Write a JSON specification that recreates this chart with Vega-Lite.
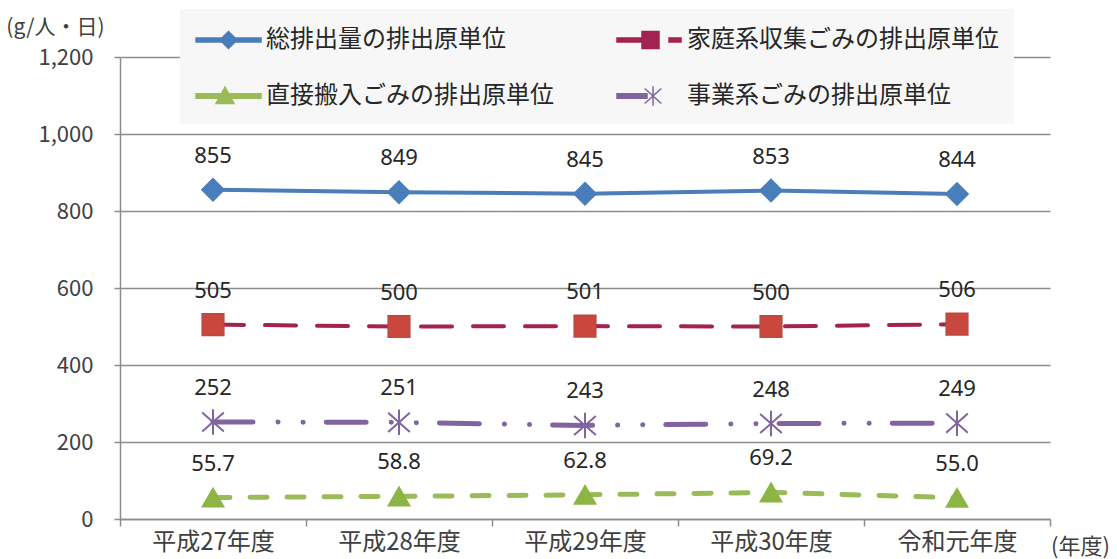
{
  "$schema": "https://vega.github.io/schema/vega-lite/v6.json",
  "autosize": {"type": "none"},
  "padding": {"left": 120, "top": 57, "right": 67, "bottom": 40},
  "width": 930,
  "height": 462,
  "background": "#ffffff",
  "config": {
    "view": {"stroke": null},
    "font": "Noto Sans CJK JP"
  },
  "data": {
    "values": [
      {"year": "平成27年度", "series": "総排出量の排出原単位", "value": 855},
      {"year": "平成28年度", "series": "総排出量の排出原単位", "value": 849},
      {"year": "平成29年度", "series": "総排出量の排出原単位", "value": 845},
      {"year": "平成30年度", "series": "総排出量の排出原単位", "value": 853},
      {"year": "令和元年度", "series": "総排出量の排出原単位", "value": 844},
      {"year": "平成27年度", "series": "家庭系収集ごみの排出原単位", "value": 505},
      {"year": "平成28年度", "series": "家庭系収集ごみの排出原単位", "value": 500},
      {"year": "平成29年度", "series": "家庭系収集ごみの排出原単位", "value": 501},
      {"year": "平成30年度", "series": "家庭系収集ごみの排出原単位", "value": 500},
      {"year": "令和元年度", "series": "家庭系収集ごみの排出原単位", "value": 506},
      {"year": "平成27年度", "series": "直接搬入ごみの排出原単位", "value": 55.7},
      {"year": "平成28年度", "series": "直接搬入ごみの排出原単位", "value": 58.8},
      {"year": "平成29年度", "series": "直接搬入ごみの排出原単位", "value": 62.8},
      {"year": "平成30年度", "series": "直接搬入ごみの排出原単位", "value": 69.2},
      {"year": "令和元年度", "series": "直接搬入ごみの排出原単位", "value": 55.0},
      {"year": "平成27年度", "series": "事業系ごみの排出原単位", "value": 252},
      {"year": "平成28年度", "series": "事業系ごみの排出原単位", "value": 251},
      {"year": "平成29年度", "series": "事業系ごみの排出原単位", "value": 243},
      {"year": "平成30年度", "series": "事業系ごみの排出原単位", "value": 248},
      {"year": "令和元年度", "series": "事業系ごみの排出原単位", "value": 249}
    ]
  },
  "encoding": {
    "x": {
      "field": "year",
      "type": "nominal",
      "scale": {
        "domain": ["平成27年度", "平成28年度", "平成29年度", "平成30年度", "令和元年度"],
        "paddingInner": 0,
        "paddingOuter": 0
      },
      "axis": {
        "title": "(年度)",
        "titleX": 960,
        "titleY": 27,
        "titleAlign": "center",
        "titleBaseline": "middle",
        "titleFontSize": 22,
        "titleFontWeight": "normal",
        "titleColor": "#404040",
        "titleFont": "Noto Sans CJK JP",
        "labelAngle": 0,
        "labelFont": "Noto Sans CJK JP",
        "labelFontSize": 24,
        "labelColor": "#404040",
        "labelPadding": 4,
        "tickBand": "extent",
        "ticks": true,
        "tickSize": 7,
        "tickColor": "#8c8c8c",
        "tickWidth": 1.5,
        "domainColor": "#8c8c8c",
        "domainWidth": 1.5,
        "grid": false
      }
    },
    "y": {
      "field": "value",
      "type": "quantitative",
      "scale": {"domain": [0, 1200]},
      "axis": {
        "values": [0, 200, 400, 600, 800, 1000, 1200],
        "format": ",.0f",
        "title": "(g/人・日)",
        "titleAngle": 0,
        "titleX": -65,
        "titleY": -30,
        "titleAlign": "center",
        "titleBaseline": "middle",
        "titleFontSize": 21,
        "titleFontWeight": "normal",
        "titleColor": "#404040",
        "titleFont": "Noto Sans CJK JP",
        "labelFont": "Noto Sans CJK JP",
        "labelFontSize": 22,
        "labelColor": "#404040",
        "labelPadding": 21,
        "tickSize": 6,
        "tickColor": "#8c8c8c",
        "tickWidth": 1.5,
        "domainColor": "#8c8c8c",
        "domainWidth": 1.5,
        "grid": true,
        "gridColor": "#8c8c8c",
        "gridWidth": 1.5
      }
    }
  },
  "layer": [
    {
      "transform": [{"filter": "datum.series === '総排出量の排出原単位'"}],
      "mark": {"type": "line", "strokeCap": "round", "strokeWidth": 4},
      "encoding": {
        "color": {
          "field": "series",
          "type": "nominal",
          "scale": {
            "domain": ["総排出量の排出原単位", "家庭系収集ごみの排出原単位", "直接搬入ごみの排出原単位", "事業系ごみの排出原単位"],
            "range": ["#4a7ebb", "#a3224f", "#9bbb59", "#8064a2"]
          },
          "legend": {
            "title": null,
            "orient": "none",
            "legendX": 60,
            "legendY": -48,
            "columns": 2,
            "direction": "horizontal",
            "fillColor": "#f7f7f7",
            "padding": 15,
            "columnPadding": 60,
            "rowPadding": 28,
            "symbolSize": 900,
            "symbolStrokeWidth": 1,
            "labelFont": "Noto Sans CJK JP",
            "labelFontSize": 24,
            "labelColor": "#262626",
            "labelOffset": 39,
            "labelLimit": 400,
            "encode": {
              "symbols": {
                "update": {
                  "shape": {"signal": "datum.value === '総排出量の排出原単位' ? 'M-1,-0.133L3.333,-0.133L3.333,0.133L-1,0.133Z M1.167,-0.567L1.733,0L1.167,0.567L0.6,0Z' : datum.value === '家庭系収集ごみの排出原単位' ? 'M-1,-0.133L0.667,-0.133L0.667,0.133L-1,0.133Z M0.667,-0.567L1.8,-0.567L1.8,0.567L0.667,0.567Z M2.467,-0.133L3.267,-0.133L3.267,0.133L2.467,0.133Z' : datum.value === '直接搬入ごみの排出原単位' ? 'M-1,-0.15L3.333,-0.15L3.333,0.15L-1,0.15Z M0.933,-0.6L1.533,0.5L0.333,0.5Z' : 'M-1,-0.15L1,-0.15L1,0.15L-1,0.15Z M1.4,-0.65L1.4,0.65 M0.85,-0.5L1.95,0.5 M0.85,0.5L1.95,-0.5'"},
                  "fill": {"scale": "color", "field": "value"},
                  "stroke": {"scale": "color", "field": "value"},
                  "strokeWidth": {"value": 1.5},
                  "strokeDash": {"value": []},
                  "opacity": {"value": 1}
                }
              }
            }
          }
        }
      }
    },
    {
      "transform": [{"filter": "datum.series === '家庭系収集ごみの排出原単位'"}],
      "mark": {"type": "line", "strokeCap": "round", "strokeWidth": 4, "strokeDash": [31, 21]},
      "encoding": {"color": {"field": "series", "type": "nominal"}}
    },
    {
      "transform": [{"filter": "datum.series === '直接搬入ごみの排出原単位'"}],
      "mark": {"type": "line", "strokeCap": "round", "strokeWidth": 5, "strokeDash": [17, 20]},
      "encoding": {"color": {"field": "series", "type": "nominal"}}
    },
    {
      "transform": [{"filter": "datum.series === '事業系ごみの排出原単位'"}],
      "mark": {"type": "line", "strokeCap": "round", "strokeWidth": 5, "strokeDash": [40, 25, 0.1, 25, 0.1, 23]},
      "encoding": {"color": {"field": "series", "type": "nominal"}}
    },
    {
      "transform": [{"filter": "datum.series === '総排出量の排出原単位'"}],
      "mark": {"type": "point", "shape": "diamond", "filled": true, "opacity": 1, "fill": "#4a7ebb", "stroke": "#4a7ebb", "strokeWidth": 1.5, "size": 500}
    },
    {
      "transform": [{"filter": "datum.series === '家庭系収集ごみの排出原単位'"}],
      "mark": {"type": "point", "shape": "square", "filled": true, "opacity": 1, "fill": "#c9473d", "stroke": "#b84a42", "strokeWidth": 1.5, "size": 470}
    },
    {
      "transform": [{"filter": "datum.series === '直接搬入ごみの排出原単位'"}],
      "mark": {"type": "point", "shape": "triangle-up", "filled": true, "opacity": 1, "fill": "#8cb545", "stroke": "#8cb545", "strokeWidth": 1.5, "size": 460}
    },
    {
      "transform": [{"filter": "datum.series === '事業系ごみの排出原単位'"}],
      "mark": {"type": "point", "shape": "M0,-1L0,1M-0.85,-0.75L0.85,0.75M-0.85,0.75L0.85,-0.75", "filled": false, "opacity": 1, "stroke": "#8064a2", "strokeWidth": 2, "size": 650}
    },
    {
      "transform": [
        {"calculate": "datum.series === '直接搬入ごみの排出原単位' ? format(datum.value, '.1f') : format(datum.value, 'd')", "as": "label"}
      ],
      "mark": {"type": "text", "dy": -34, "font": "Noto Sans", "fontSize": 22, "color": "#262626"},
      "encoding": {
        "text": {"field": "label", "type": "nominal"}
      }
    }
  ]
}
